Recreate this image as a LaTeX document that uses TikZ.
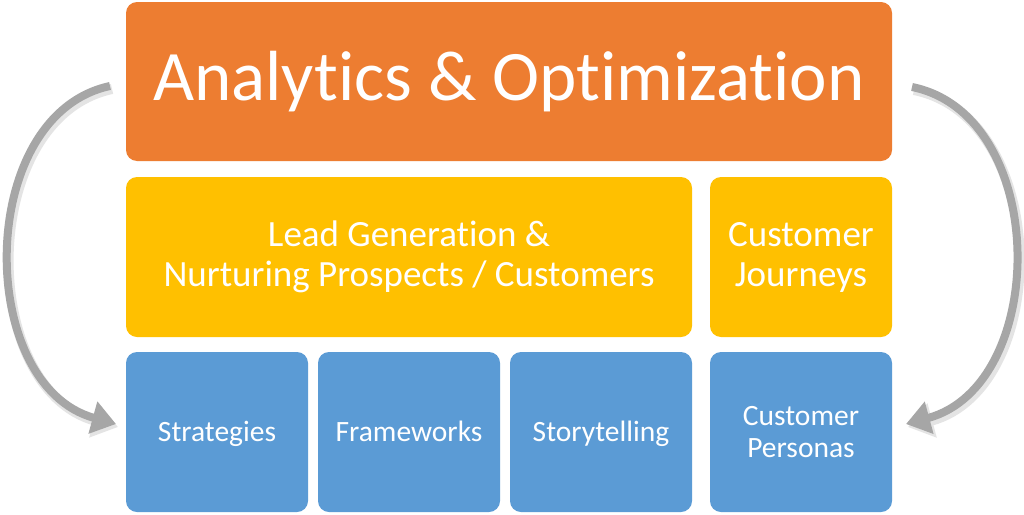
\documentclass[tikz,border=0pt]{standalone}
\usepackage{fontspec}
\setmainfont{Carlito}[Ligatures=NoCommon]
\usetikzlibrary{arrows.meta}
\definecolor{orangebox}{HTML}{ED7D31}
\definecolor{yellowbox}{HTML}{FFC000}
\definecolor{bluebox}{HTML}{5B9BD5}
\definecolor{arrowgray}{HTML}{A6A6A6}
\definecolor{shadowgray}{HTML}{E4E4E4}
\tikzset{
  panel/.style={rounded corners=11pt, inner sep=0pt, text=white, align=center},
  titlebox/.style={panel, fill=orangebox, minimum width=766pt, minimum height=159pt, font=\fontsize{71}{80}\selectfont},
  midbox/.style={panel, fill=yellowbox, minimum height=160pt, font=\fontsize{37}{40}\selectfont},
  basebox/.style={panel, fill=bluebox, minimum width=182pt, minimum height=160pt, font=\fontsize{29.5}{32}\selectfont},
  oneline/.style={text height=20pt, text depth=2pt},
  cyclearrow/.style={draw=arrowgray, line width=8pt, -{Triangle[length=24pt,width=32pt]}},
  cycleshadow/.style={draw=shadowgray, line width=10pt, -{Triangle[length=25pt,width=34pt]}},
}
\begin{document}
\begin{tikzpicture}[x=1pt,y=-1pt]
\useasboundingbox (0,0) rectangle (1024,514);
\fill[white] (0,0) rectangle (1024,514);
\node[titlebox] (top) at (509,81.5) {Analytics \& Optimization};
\node[midbox, minimum width=566pt] (lead) at (409,257) {Lead Generation \&\\Nurturing Prospects / Customers};
\node[midbox, minimum width=182pt] (journey) at (801,257) {Customer\\Journeys};
\node[basebox, oneline] (strat) at (217,432) {Strategies};
\node[basebox, oneline] (frame) at (409,432) {Frameworks};
\node[basebox, oneline] (story) at (601,432) {Storytelling};
\node[basebox] (persona) at (801,432) {Customer\\Personas};
\coordinate (ls) at (110,86);
\coordinate (le) at (116,424);
\coordinate (rs) at (912,87);
\coordinate (re) at (906,424);
\draw[cycleshadow] ([shift={(2,3)}]ls) .. controls (-23,118) and (-23,388) .. ([shift={(2,3)}]le);
\draw[cycleshadow] ([shift={(2,3)}]rs) .. controls (1052,118) and (1052,388) .. ([shift={(2,3)}]re);
\draw[cyclearrow] (ls) .. controls (-25,115) and (-25,385) .. (le);
\draw[cyclearrow] (rs) .. controls (1050,115) and (1050,385) .. (re);
\end{tikzpicture}
\end{document}
